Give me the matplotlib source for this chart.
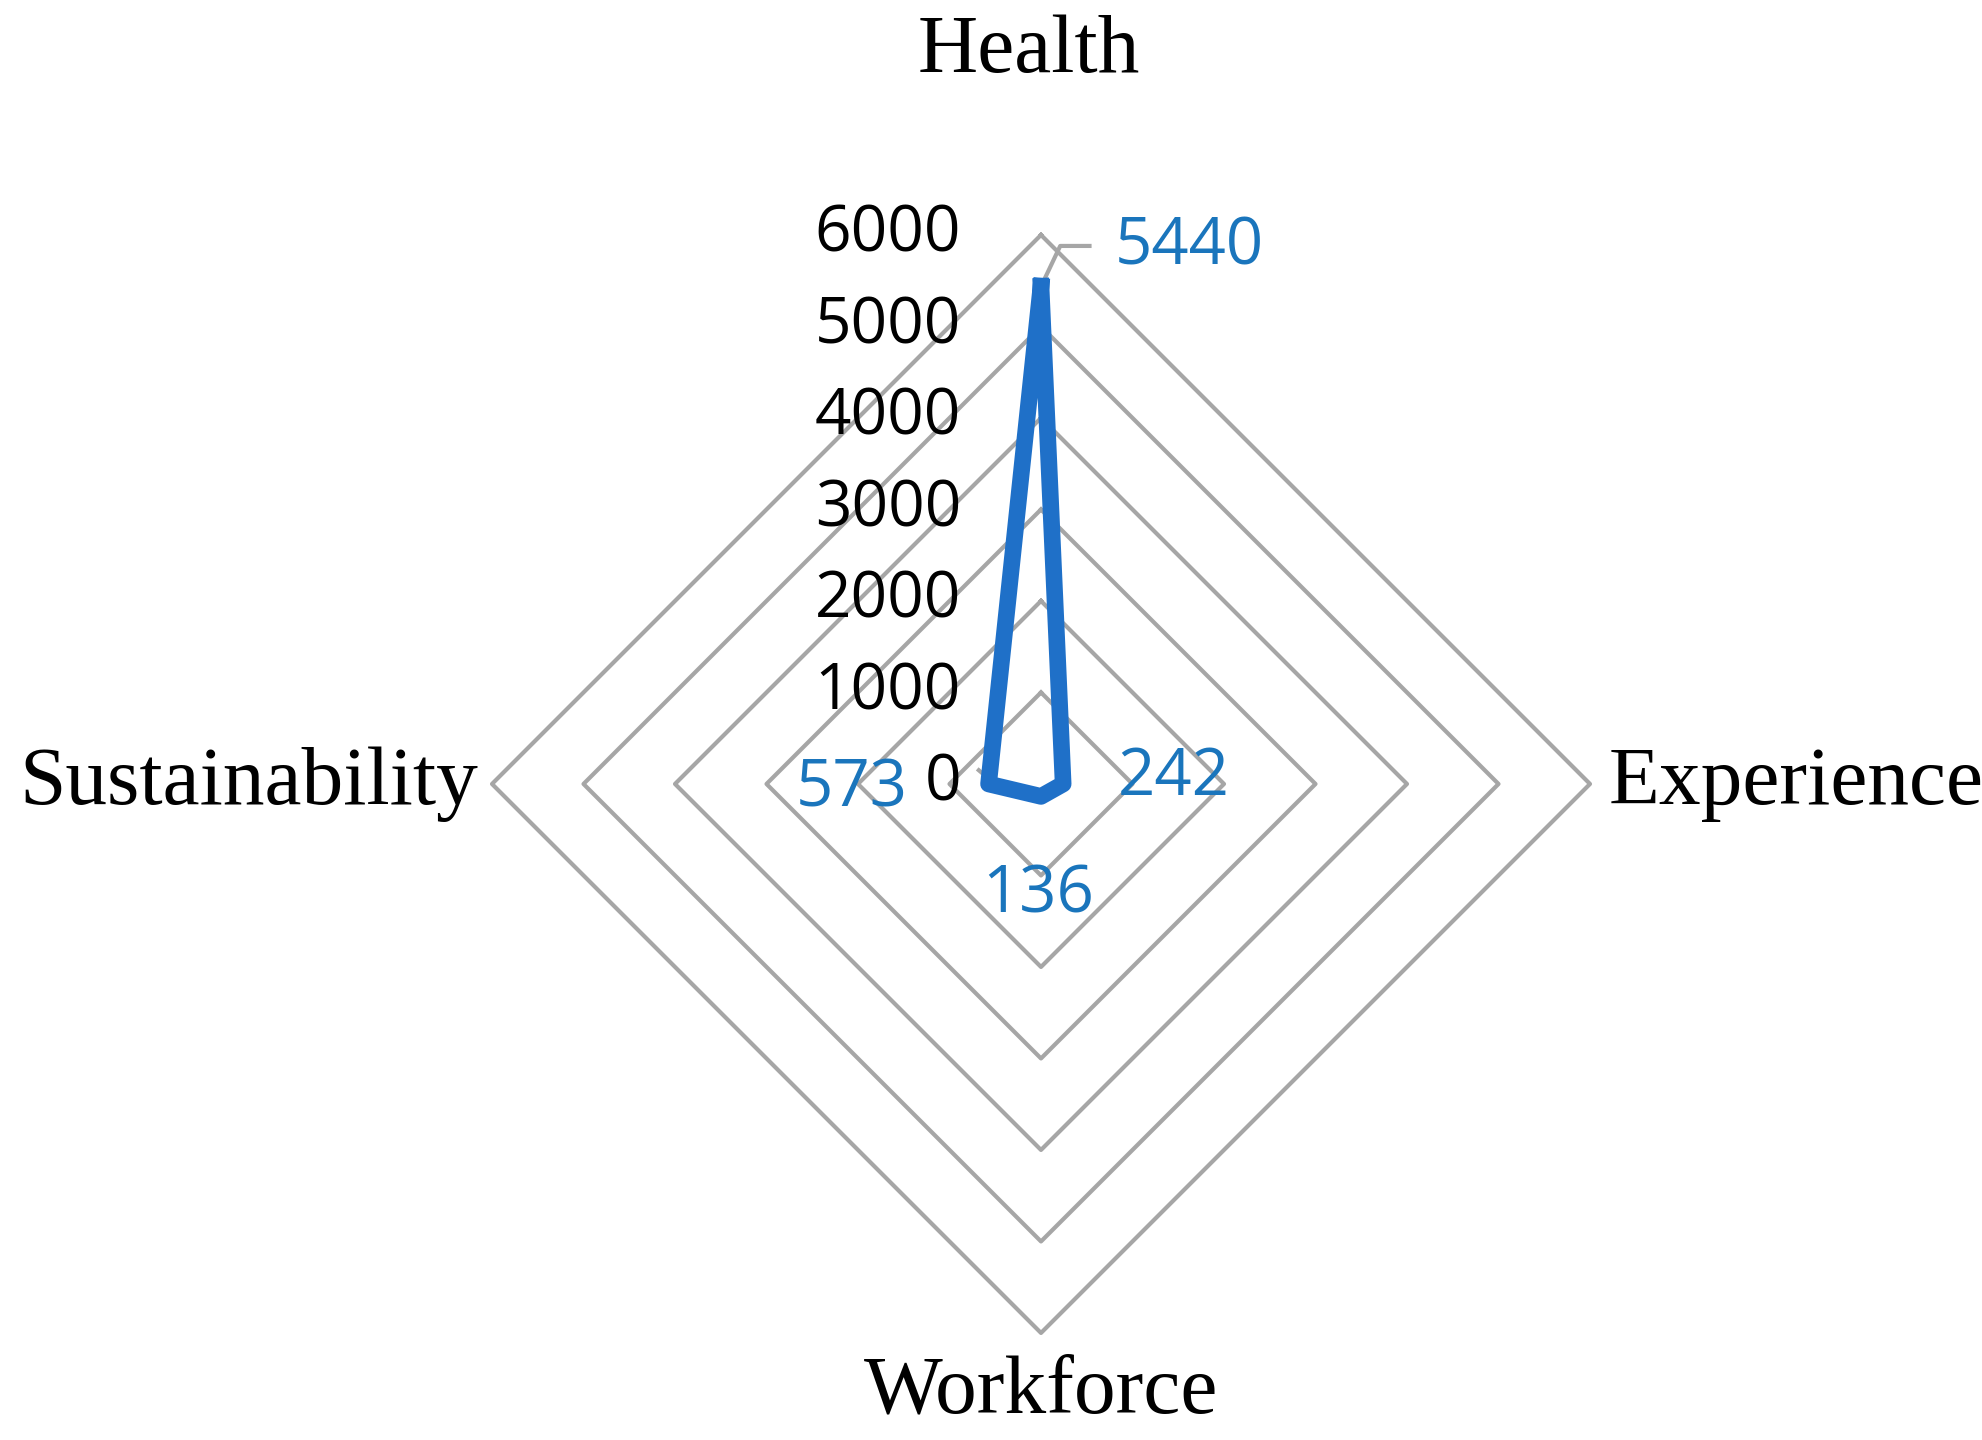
import numpy as np
import matplotlib
matplotlib.use("Agg")
import matplotlib.pyplot as plt

categories = ["Health", "Experience", "Workforce", "Sustainability"]
values = [5440, 242, 136, 573]
ticks = [0, 1000, 2000, 3000, 4000, 5000, 6000]

fig = plt.figure(figsize=(19.82, 14.4), dpi=100)
ax = fig.add_axes([0, 0, 1, 1])
ax.set_xlim(-11377, 10284)
ax.set_ylim(-7170, 8568)
ax.set_aspect('equal')
ax.axis('off')

ang = np.arange(len(categories)) * 2 * np.pi / len(categories)
sx, sy = np.sin(ang), np.cos(ang)

grid_c = '#a6a6a6'
for r in ticks[1:]:
    ax.plot(np.append(r * sx, r * sx[0]), np.append(r * sy, r * sy[0]),
            color=grid_c, lw=3, zorder=1)

v = np.array(values)
ax.plot(np.append(v * sx, v[0] * sx[0]), np.append(v * sy, v[0] * sy[0]),
        color='#1f70c8', lw=12, solid_joinstyle='round', zorder=3)

for t in ticks:
    ax.text(-874, t, str(t), ha='right', va='center', fontsize=46,
            family='Open Sans', color='black')

lab_font = dict(fontsize=60, family='Liberation Serif', color='black')
ax.text(-130, 8000, categories[0], ha='center', va='center', **lab_font)
ax.text(6200, 0, categories[1], ha='left', va='center', **lab_font)
ax.text(0, -6650, categories[2], ha='center', va='center', **lab_font)
ax.text(-6150, 0, categories[3], ha='right', va='center', **lab_font)

dc = '#1a75bc'
df = dict(fontsize=47, family='Open Sans', color=dc)
ax.plot([30, 210, 530], [5500, 5880, 5880], color=grid_c, lw=3, zorder=2)
ax.text(806, 5866, str(values[0]), ha='left', va='center', **df)
ax.text(834, 60, str(values[1]), ha='left', va='center', **df)
ax.text(-28, -1223, str(values[2]), ha='center', va='center', **df)
ax.plot([-573, -680], [60, 150], color=grid_c, lw=3, zorder=2)
ax.text(-1460, -60, str(values[3]), ha='right', va='center', **df)

fig.savefig("out.png", dpi=100, facecolor='white')
